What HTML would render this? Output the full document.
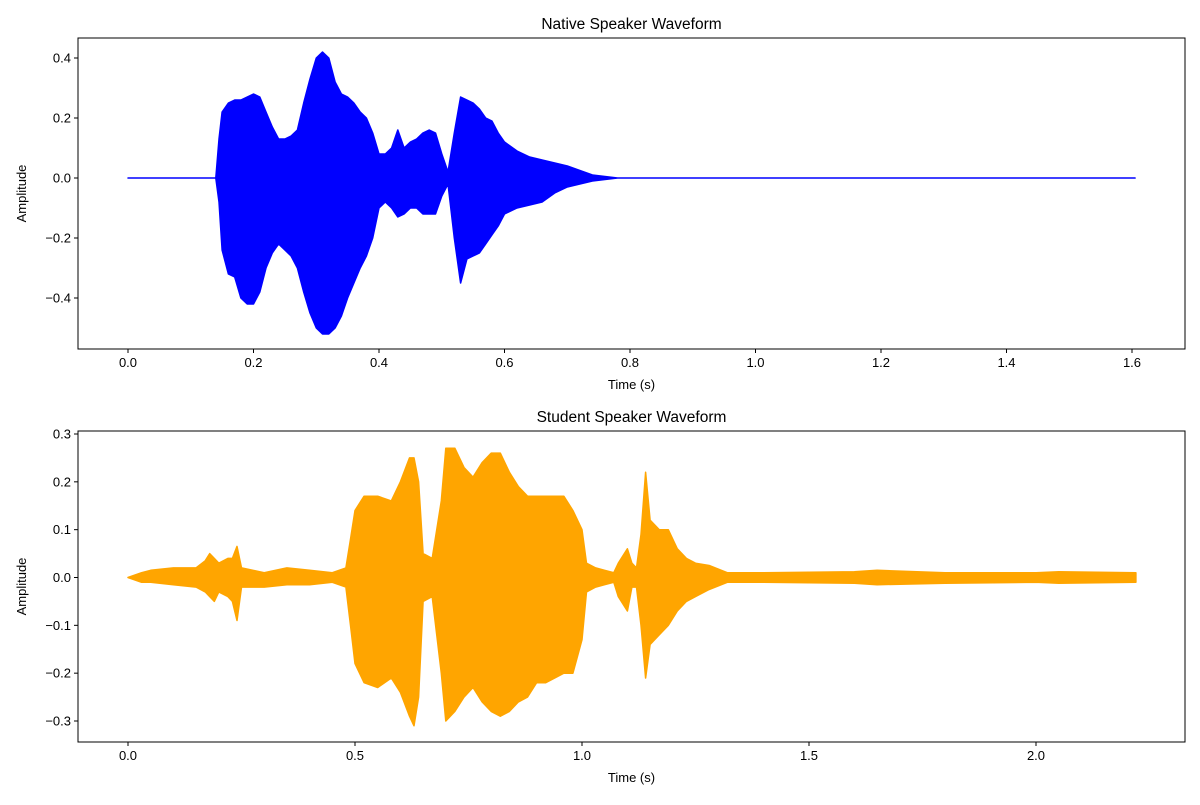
<!DOCTYPE html>
<html><head><meta charset="utf-8"><style>
body{margin:0;background:#fff;font-family:"Liberation Sans","DejaVu Sans",sans-serif}
svg text{font-family:"Liberation Sans","DejaVu Sans",sans-serif;fill:#000}
</style></head><body>
<svg id="c" width="1200" height="800" xmlns="http://www.w3.org/2000/svg"></svg>
<script>
// Native speaker envelope data
const nativeTimes=[0,0.14,0.145,0.15,0.16,0.17,0.18,0.19,0.20,0.21,0.22,0.23,0.24,0.25,0.26,0.27,0.28,0.29,0.30,0.31,0.32,0.33,0.34,0.35,0.36,0.37,0.38,0.39,0.40,0.41,0.42,0.43,0.44,0.45,0.46,0.47,0.48,0.49,0.50,0.51,0.52,0.53,0.54,0.55,0.56,0.57,0.58,0.59,0.60,0.62,0.64,0.66,0.68,0.70,0.72,0.74,0.76,0.78,1.605];
const nativeMax=[0,0,0.13,0.22,0.25,0.26,0.26,0.27,0.28,0.27,0.22,0.17,0.13,0.13,0.14,0.16,0.25,0.33,0.40,0.42,0.40,0.32,0.28,0.27,0.25,0.22,0.20,0.15,0.08,0.08,0.10,0.16,0.10,0.12,0.13,0.15,0.16,0.15,0.08,0.02,0.15,0.27,0.26,0.25,0.23,0.20,0.19,0.15,0.12,0.09,0.07,0.06,0.05,0.04,0.025,0.01,0.005,0,0];
const nativeMin=[0,0,-0.08,-0.24,-0.32,-0.33,-0.40,-0.42,-0.42,-0.38,-0.30,-0.25,-0.22,-0.24,-0.26,-0.30,-0.38,-0.45,-0.50,-0.52,-0.52,-0.50,-0.46,-0.40,-0.35,-0.30,-0.26,-0.20,-0.10,-0.08,-0.10,-0.13,-0.12,-0.10,-0.10,-0.12,-0.12,-0.12,-0.06,-0.02,-0.20,-0.35,-0.27,-0.26,-0.25,-0.22,-0.19,-0.16,-0.12,-0.10,-0.09,-0.08,-0.05,-0.03,-0.02,-0.01,-0.005,0,0];
// Student speaker envelope data
const studentTimes=[0,0.03,0.05,0.10,0.15,0.17,0.18,0.19,0.20,0.22,0.23,0.24,0.25,0.30,0.35,0.40,0.45,0.48,0.49,0.50,0.52,0.55,0.58,0.60,0.62,0.63,0.64,0.65,0.67,0.69,0.70,0.72,0.74,0.76,0.78,0.80,0.82,0.84,0.86,0.88,0.90,0.92,0.94,0.96,0.98,1.00,1.01,1.03,1.05,1.07,1.08,1.10,1.11,1.12,1.13,1.14,1.15,1.17,1.19,1.21,1.23,1.25,1.28,1.32,1.40,1.60,1.65,1.80,2.00,2.05,2.22];
const studentMax=[0,0.01,0.015,0.02,0.02,0.035,0.05,0.04,0.03,0.04,0.04,0.065,0.02,0.01,0.02,0.015,0.01,0.02,0.08,0.14,0.17,0.17,0.16,0.20,0.25,0.25,0.20,0.05,0.04,0.16,0.27,0.27,0.23,0.21,0.24,0.26,0.26,0.22,0.19,0.17,0.17,0.17,0.17,0.17,0.14,0.10,0.03,0.02,0.015,0.01,0.03,0.06,0.03,0.02,0.09,0.22,0.12,0.10,0.10,0.06,0.04,0.03,0.025,0.01,0.01,0.012,0.015,0.01,0.01,0.012,0.01];
const studentMin=[0,-0.01,-0.01,-0.015,-0.02,-0.03,-0.04,-0.05,-0.03,-0.04,-0.05,-0.09,-0.02,-0.02,-0.015,-0.015,-0.01,-0.02,-0.10,-0.18,-0.22,-0.23,-0.21,-0.24,-0.29,-0.31,-0.25,-0.05,-0.04,-0.20,-0.30,-0.28,-0.25,-0.23,-0.26,-0.28,-0.29,-0.28,-0.26,-0.25,-0.22,-0.22,-0.21,-0.20,-0.20,-0.13,-0.03,-0.02,-0.015,-0.01,-0.04,-0.07,-0.02,-0.02,-0.10,-0.21,-0.14,-0.12,-0.10,-0.07,-0.05,-0.04,-0.025,-0.01,-0.01,-0.012,-0.015,-0.012,-0.01,-0.012,-0.01];
const nativeXTicks=[0,0.2,0.4,0.6,0.8,1.0,1.2,1.4,1.6];
const nativeYTicks=[0.4,0.2,0,-0.2,-0.4];
const studentXTicks=[0,0.5,1.0,1.5,2.0];
const studentYTicks=[0.3,0.2,0.1,0,-0.1,-0.2,-0.3];

const NS="http://www.w3.org/2000/svg";
const svg=document.getElementById('c');
function mk(tag,attrs,parent){const e=document.createElementNS(NS,tag);for(const k in attrs)e.setAttribute(k,attrs[k]);(parent||svg).appendChild(e);return e;}

function panel(cfg){
  const g=mk('g',{});
  
  
  const sx=v=>cfg.x0+(v-cfg.xa)*(cfg.x1-cfg.x0)/(cfg.xb-cfg.xa);
  const sy=v=>cfg.y0+(v-cfg.ya)*(cfg.y1-cfg.y0)/(cfg.yb-cfg.ya);
  let d='M'+cfg.t.map((t,i)=>sx(t).toFixed(1)+','+sy(cfg.mx[i]).toFixed(1)).join('L');
  for(let i=cfg.t.length-1;i>=0;i--)d+='L'+sx(cfg.t[i]).toFixed(1)+','+sy(cfg.mn[i]).toFixed(1);
  d+='Z';
  const p=mk('path',{d:d,fill:cfg.color,stroke:cfg.color,'stroke-width':1.5,'stroke-linejoin':'round'},g);
  
  
  const r=mk('rect',{x:cfg.L,y:cfg.T,width:cfg.R-cfg.L,height:cfg.B-cfg.T,fill:'none',stroke:'#000','stroke-width':1},g);
  
  
  cfg.xt.forEach(v=>{
    const x=sx(v);
    mk('line',{x1:x,x2:x,y1:cfg.B,y2:cfg.B+4,stroke:'#000'},g);
    const t=mk('text',{x:x,y:cfg.B+18,'text-anchor':'middle','font-size':13},g);
    t.textContent=v.toFixed(1);
    
    
  });
  cfg.yt.forEach(v=>{
    const y=sy(v);
    mk('line',{x1:cfg.L-4,x2:cfg.L,y1:y,y2:y,stroke:'#000'},g);
    const t=mk('text',{x:cfg.L-7,y:y+4.5,'text-anchor':'end','font-size':13},g);
    t.textContent=(v<0?'\u2212':'')+Math.abs(v).toFixed(1);
    
    
  });
  const ti=mk('text',{x:(cfg.L+cfg.R)/2,y:cfg.T-9,'text-anchor':'middle','font-size':15.5},g);
  ti.textContent=cfg.title;
  
  
  const xl=mk('text',{x:(cfg.L+cfg.R)/2,y:cfg.B+40,'text-anchor':'middle','font-size':13},g);
  xl.textContent='Time (s)';
  
  
  const yc=(cfg.T+cfg.B)/2;
  const yl=mk('text',{x:26,y:yc,'text-anchor':'middle','font-size':13,transform:'rotate(-90 26 '+yc+')'},g);
  yl.textContent='Amplitude';
  
  
}
panel({name:'native-panel',title:'Native Speaker Waveform',color:'#0000ff',L:78,R:1185,T:38,B:349,
  xa:0,xb:1.6,x0:128,x1:1132,ya:0.4,yb:-0.4,y0:58,y1:298,t:nativeTimes,mx:nativeMax,mn:nativeMin,xt:nativeXTicks,yt:nativeYTicks});
panel({name:'student-panel',title:'Student Speaker Waveform',color:'#ffa500',L:78,R:1185,T:431,B:742,
  xa:0,xb:2.0,x0:128,x1:1036,ya:0.3,yb:-0.3,y0:434,y1:721,t:studentTimes,mx:studentMax,mn:studentMin,xt:studentXTicks,yt:studentYTicks});
</script>
</body></html>
